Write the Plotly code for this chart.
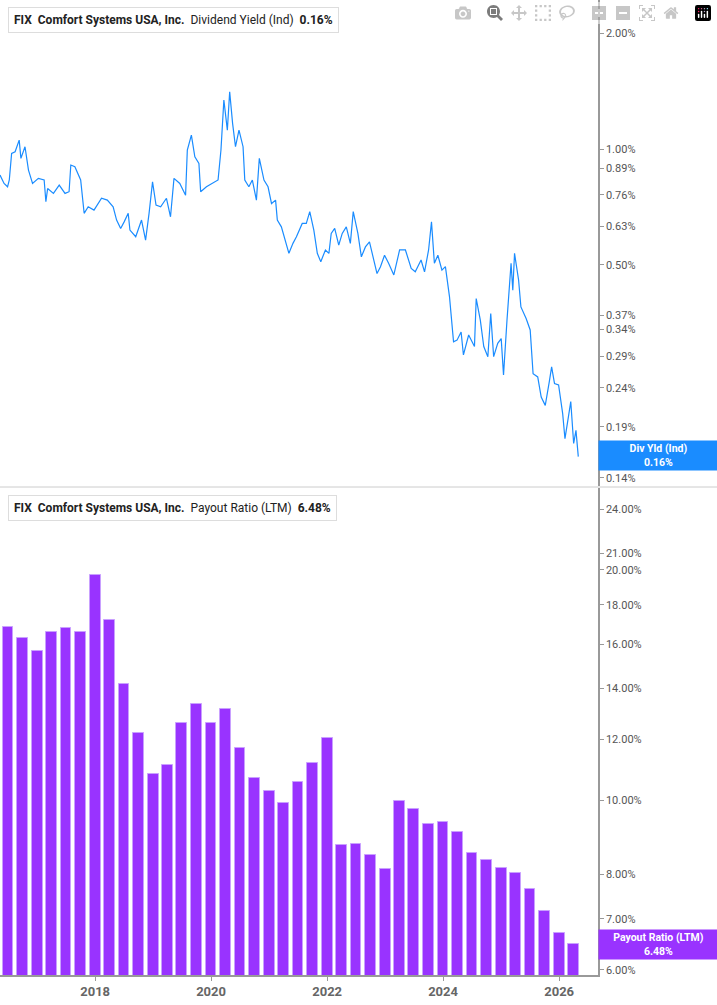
import plotly.graph_objects as go
from plotly.subplots import make_subplots
import pandas as pd
import datetime as dt

# ---- Dividend yield (Ind), % ----
yield_years = [2016.36,2016.43,2016.49,2016.52,2016.56,2016.62,2016.69,2016.72,2016.79,2016.85,2016.92,2017.02,2017.12,2017.15,2017.18,2017.28,2017.38,2017.48,2017.55,2017.58,2017.65,2017.75,2017.81,2017.88,2017.98,2018.11,2018.21,2018.31,2018.37,2018.44,2018.50,2018.57,2018.60,2018.70,2018.80,2018.87,2018.93,2018.99,2019.05,2019.13,2019.23,2019.30,2019.36,2019.46,2019.56,2019.59,2019.66,2019.72,2019.79,2019.82,2019.92,2020.02,2020.12,2020.17,2020.22,2020.28,2020.32,2020.37,2020.42,2020.48,2020.55,2020.58,2020.65,2020.71,2020.78,2020.83,2020.91,2020.98,2021.04,2021.11,2021.14,2021.21,2021.27,2021.34,2021.41,2021.47,2021.57,2021.64,2021.70,2021.77,2021.83,2021.89,2021.97,2022.03,2022.07,2022.13,2022.20,2022.26,2022.33,2022.40,2022.45,2022.53,2022.59,2022.66,2022.73,2022.81,2022.86,2022.92,2022.99,2023.06,2023.15,2023.25,2023.35,2023.45,2023.52,2023.62,2023.68,2023.75,2023.80,2023.85,2023.91,2023.98,2024.04,2024.11,2024.18,2024.24,2024.31,2024.35,2024.44,2024.54,2024.57,2024.64,2024.70,2024.77,2024.82,2024.87,2024.94,2025.00,2025.04,2025.10,2025.17,2025.20,2025.23,2025.30,2025.34,2025.43,2025.50,2025.55,2025.63,2025.69,2025.76,2025.83,2025.87,2025.92,2025.99,2026.06,2026.10,2026.16,2026.20,2026.25,2026.29,2026.33]
yield_vals = [0.856,0.814,0.798,0.831,0.974,0.984,1.055,0.946,1.014,0.882,0.814,0.839,0.831,0.730,0.790,0.767,0.806,0.767,0.775,0.909,0.900,0.831,0.681,0.708,0.694,0.745,0.737,0.708,0.654,0.622,0.647,0.681,0.616,0.592,0.654,0.580,0.681,0.822,0.715,0.708,0.745,0.667,0.839,0.814,0.759,0.994,1.087,0.955,0.918,0.775,0.798,0.814,0.831,0.994,1.341,1.120,1.409,1.166,1.014,1.120,1.014,0.831,0.798,0.831,0.737,0.946,0.831,0.798,0.722,0.737,0.654,0.628,0.580,0.536,0.569,0.592,0.641,0.641,0.688,0.616,0.536,0.510,0.547,0.536,0.604,0.622,0.563,0.604,0.628,0.569,0.688,0.604,0.525,0.557,0.574,0.515,0.475,0.495,0.530,0.505,0.471,0.547,0.547,0.490,0.480,0.515,0.480,0.547,0.647,0.505,0.530,0.485,0.495,0.414,0.316,0.319,0.335,0.292,0.329,0.307,0.409,0.360,0.307,0.289,0.374,0.289,0.313,0.322,0.259,0.360,0.505,0.430,0.536,0.457,0.389,0.363,0.339,0.261,0.256,0.227,0.216,0.249,0.272,0.246,0.244,0.206,0.177,0.202,0.221,0.172,0.186,0.159]

# ---- Payout ratio (LTM), % quarterly ----
payout_start = "2016-07-01"
payout_vals = [16.85,16.3,15.65,16.57,16.8,16.6,19.7,17.2,14.2,12.23,10.83,11.13,12.62,13.37,12.62,13.15,11.7,10.7,10.28,9.91,10.57,11.17,12.05,8.74,8.77,8.48,8.14,9.97,9.73,9.31,9.36,9.08,8.54,8.36,8.16,8.04,7.66,7.17,6.71,6.48]

top_ticks = [2.00,1.00,0.89,0.76,0.63,0.50,0.37,0.34,0.29,0.24,0.19,0.14]
bot_ticks = [6,7,8,10,12,14,16,18,20,21,24]
year_ticks = [2018,2020,2022,2024,2026]

def yr2date(y):
    yi = int(y)
    start = dt.datetime(yi, 1, 1)
    return start + (dt.datetime(yi + 1, 1, 1) - start) * (y - yi)

yield_dates = [yr2date(y) for y in yield_years]
payout_dates = pd.date_range(payout_start, periods=len(payout_vals), freq="QS")

BLUE = "#1a8cff"
PURPLE = "#9933ff"
GREY = "#999999"
TXT = "#555555"

fig = make_subplots(rows=2, cols=1, shared_xaxes=True, vertical_spacing=0.002)
fig.add_trace(go.Scatter(x=yield_dates, y=yield_vals, mode="lines",
                         line=dict(color=BLUE, width=1.2)), row=1, col=1)
fig.add_trace(go.Bar(x=payout_dates, y=payout_vals, marker=dict(color=PURPLE, line=dict(color="#c9a0ff", width=1)),
                     width=68 * 24 * 3600 * 1000), row=2, col=1)

xr = [yr2date(2016.36), yr2date(2026.67)]
xt = [dt.datetime(y, 1, 1) for y in year_ticks]
fig.update_xaxes(range=xr, showgrid=False, zeroline=False)
fig.update_xaxes(row=1, col=1, showticklabels=False, showline=False)
fig.update_xaxes(row=2, col=1, tickvals=xt, ticktext=[str(y) for y in year_ticks],
                 ticks="outside", ticklen=4, tickcolor=GREY, showline=True, linecolor=GREY, linewidth=1.5,
                 tickfont=dict(family="Roboto", size=13, color="#666666", weight="bold"))

fig.update_yaxes(row=1, col=1, type="log", range=[-0.875, 0.387], side="right",
                 tickvals=top_ticks, ticktext=[f"{v:.2f}%" for v in top_ticks],
                 showgrid=False, zeroline=False, showline=True, linecolor=GREY, linewidth=1.5,
                 ticks="outside", ticklen=4, tickcolor=GREY,
                 tickfont=dict(family="Roboto", size=11, color=TXT))
fig.update_yaxes(row=2, col=1, type="log", range=[0.7716, 1.408], side="right",
                 tickvals=bot_ticks, ticktext=[f"{v:.2f}%" for v in bot_ticks],
                 showgrid=False, zeroline=False, showline=True, linecolor=GREY, linewidth=1.5,
                 ticks="outside", ticklen=4, tickcolor=GREY,
                 tickfont=dict(family="Roboto", size=11, color=TXT))
fig.update_layout(yaxis=dict(domain=[0.5015, 1.0]), yaxis2=dict(domain=[0.0, 0.4995]))

fig.add_shape(type="line", xref="paper", yref="paper", x0=0, x1=1.2, y0=0.5005, y1=0.5005,
              line=dict(color="#cccccc", width=1))

def legend(y, title, val, color):
    fig.add_annotation(xref="paper", yref="paper", x=0.013, y=y, xanchor="left", yanchor="middle",
                       text=f"<b>FIX</b>  <b>Comfort Systems USA, Inc.</b>  {title}  <b>{val}</b>",
                       showarrow=False, bgcolor="white", bordercolor="#dddddd", borderwidth=1, borderpad=5,
                       font=dict(family="Roboto", size=12, color="#222222"))
    fig.add_shape(type="rect", xref="paper", yref="paper", x0=0.014, x1=0.019, y0=y - 0.008, y1=y + 0.008,
                  fillcolor=color, line=dict(width=0))

legend(0.979, "Dividend Yield (Ind)", "0.16%", BLUE)
legend(0.479, "Payout Ratio (LTM)", "6.48%", PURPLE)

fig.add_annotation(xref="paper", yref="y", x=1.0, y=-0.796, xanchor="left", yanchor="middle",
                   text="<b>Div Yld (Ind)</b><br><b>0.16%</b>", showarrow=False, bgcolor=BLUE,
                   width=117, borderpad=1, font=dict(family="Roboto", size=10.5, color="white"))
fig.add_annotation(xref="paper", yref="y2", x=1.0, y=0.8116, xanchor="left", yanchor="middle",
                   text="<b>Payout Ratio (LTM)</b><br><b>6.48%</b>", showarrow=False, bgcolor=PURPLE,
                   width=117, borderpad=1, font=dict(family="Roboto", size=10.5, color="white"))

fig.update_layout(width=717, height=1005, margin=dict(l=0, r=119, t=0, b=30),
                  paper_bgcolor="white", plot_bgcolor="white", showlegend=False, bargap=0)
fig.write_html("out.html")

with open("out.html", encoding="utf-8") as f:
    html = f.read()
html = html.replace("<body>", '<body style="margin:0;padding:0;overflow:hidden">', 1)
with open("out.html", "w", encoding="utf-8") as f:
    f.write(html)
